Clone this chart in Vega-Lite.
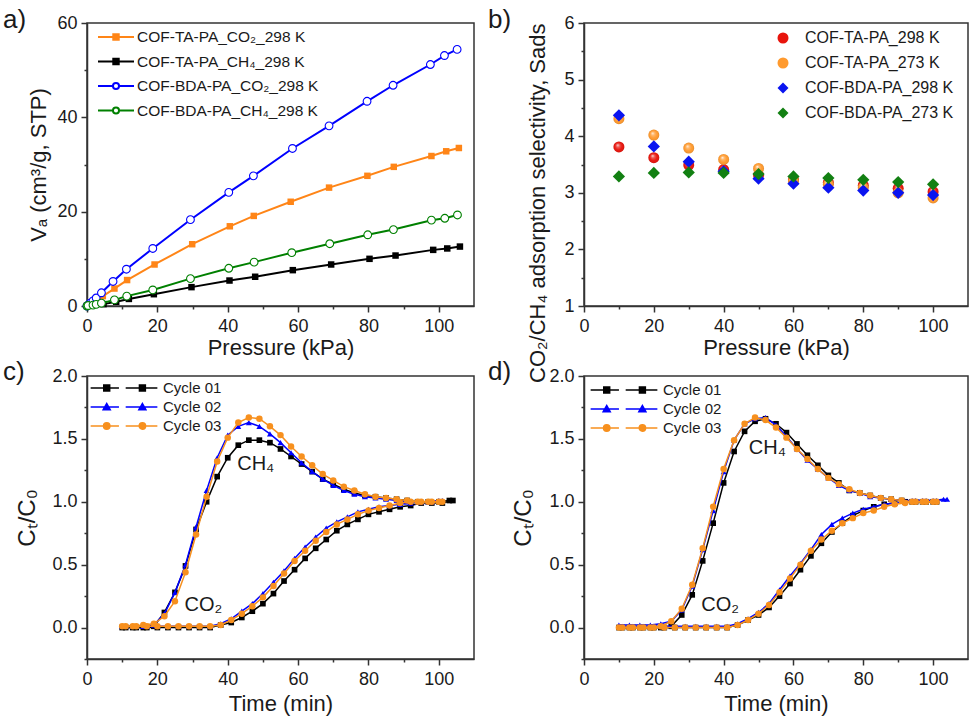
{
  "$schema": "https://vega.github.io/schema/vega-lite/v6.json",
  "autosize": {"type": "none"},
  "padding": {"left": 87, "top": 23, "right": 886, "bottom": 697},
  "columns": 2,
  "spacing": {"row": 70, "column": 110},
  "bounds": "flush",
  "datasets": {
    "a": [
      {"p":0,"v":0,"s":"COF-TA-PA_CO₂_298 K"},{"p":0.3,"v":0.1,"s":"COF-TA-PA_CO₂_298 K"},{"p":1.2,"v":0.6,"s":"COF-TA-PA_CO₂_298 K"},{"p":2.6,"v":1.3,"s":"COF-TA-PA_CO₂_298 K"},{"p":4.5,"v":2.1,"s":"COF-TA-PA_CO₂_298 K"},{"p":7.8,"v":3.7,"s":"COF-TA-PA_CO₂_298 K"},{"p":11.4,"v":5.5,"s":"COF-TA-PA_CO₂_298 K"},{"p":19.2,"v":8.8,"s":"COF-TA-PA_CO₂_298 K"},{"p":29.9,"v":13.1,"s":"COF-TA-PA_CO₂_298 K"},{"p":40.6,"v":16.9,"s":"COF-TA-PA_CO₂_298 K"},{"p":47.4,"v":19.1,"s":"COF-TA-PA_CO₂_298 K"},{"p":57.9,"v":22.1,"s":"COF-TA-PA_CO₂_298 K"},{"p":68.8,"v":25.1,"s":"COF-TA-PA_CO₂_298 K"},{"p":79.7,"v":27.6,"s":"COF-TA-PA_CO₂_298 K"},{"p":87.2,"v":29.5,"s":"COF-TA-PA_CO₂_298 K"},{"p":97.9,"v":31.8,"s":"COF-TA-PA_CO₂_298 K"},{"p":102.1,"v":32.8,"s":"COF-TA-PA_CO₂_298 K"},{"p":105.7,"v":33.5,"s":"COF-TA-PA_CO₂_298 K"},
      {"p":0,"v":0,"s":"COF-TA-PA_CH₄_298 K"},{"p":0.3,"v":0.1,"s":"COF-TA-PA_CH₄_298 K"},{"p":4.7,"v":0.4,"s":"COF-TA-PA_CH₄_298 K"},{"p":8.3,"v":0.9,"s":"COF-TA-PA_CH₄_298 K"},{"p":11.9,"v":1.5,"s":"COF-TA-PA_CH₄_298 K"},{"p":19.0,"v":2.5,"s":"COF-TA-PA_CH₄_298 K"},{"p":29.7,"v":4.0,"s":"COF-TA-PA_CH₄_298 K"},{"p":40.5,"v":5.4,"s":"COF-TA-PA_CH₄_298 K"},{"p":47.8,"v":6.2,"s":"COF-TA-PA_CH₄_298 K"},{"p":58.5,"v":7.6,"s":"COF-TA-PA_CH₄_298 K"},{"p":69.4,"v":8.8,"s":"COF-TA-PA_CH₄_298 K"},{"p":80.3,"v":10.0,"s":"COF-TA-PA_CH₄_298 K"},{"p":87.7,"v":10.7,"s":"COF-TA-PA_CH₄_298 K"},{"p":98.4,"v":11.9,"s":"COF-TA-PA_CH₄_298 K"},{"p":102.4,"v":12.2,"s":"COF-TA-PA_CH₄_298 K"},{"p":106.0,"v":12.6,"s":"COF-TA-PA_CH₄_298 K"},
      {"p":0,"v":0,"s":"COF-BDA-PA_CO₂_298 K"},{"p":0.3,"v":0.2,"s":"COF-BDA-PA_CO₂_298 K"},{"p":0.9,"v":0.6,"s":"COF-BDA-PA_CO₂_298 K"},{"p":1.7,"v":1.1,"s":"COF-BDA-PA_CO₂_298 K"},{"p":2.6,"v":1.7,"s":"COF-BDA-PA_CO₂_298 K"},{"p":4.1,"v":2.8,"s":"COF-BDA-PA_CO₂_298 K"},{"p":7.4,"v":5.2,"s":"COF-BDA-PA_CO₂_298 K"},{"p":11.2,"v":7.8,"s":"COF-BDA-PA_CO₂_298 K"},{"p":18.7,"v":12.2,"s":"COF-BDA-PA_CO₂_298 K"},{"p":29.4,"v":18.3,"s":"COF-BDA-PA_CO₂_298 K"},{"p":40.3,"v":24.1,"s":"COF-BDA-PA_CO₂_298 K"},{"p":47.3,"v":27.6,"s":"COF-BDA-PA_CO₂_298 K"},{"p":58.4,"v":33.4,"s":"COF-BDA-PA_CO₂_298 K"},{"p":68.8,"v":38.2,"s":"COF-BDA-PA_CO₂_298 K"},{"p":79.6,"v":43.4,"s":"COF-BDA-PA_CO₂_298 K"},{"p":87.0,"v":46.8,"s":"COF-BDA-PA_CO₂_298 K"},{"p":97.6,"v":51.2,"s":"COF-BDA-PA_CO₂_298 K"},{"p":101.6,"v":53.1,"s":"COF-BDA-PA_CO₂_298 K"},{"p":105.2,"v":54.4,"s":"COF-BDA-PA_CO₂_298 K"},
      {"p":0,"v":0,"s":"COF-BDA-PA_CH₄_298 K"},{"p":0.3,"v":0.1,"s":"COF-BDA-PA_CH₄_298 K"},{"p":1.7,"v":0.2,"s":"COF-BDA-PA_CH₄_298 K"},{"p":2.6,"v":0.35,"s":"COF-BDA-PA_CH₄_298 K"},{"p":4.1,"v":0.6,"s":"COF-BDA-PA_CH₄_298 K"},{"p":7.8,"v":1.3,"s":"COF-BDA-PA_CH₄_298 K"},{"p":11.3,"v":2.1,"s":"COF-BDA-PA_CH₄_298 K"},{"p":18.7,"v":3.4,"s":"COF-BDA-PA_CH₄_298 K"},{"p":29.4,"v":5.8,"s":"COF-BDA-PA_CH₄_298 K"},{"p":40.3,"v":8.0,"s":"COF-BDA-PA_CH₄_298 K"},{"p":47.5,"v":9.3,"s":"COF-BDA-PA_CH₄_298 K"},{"p":58.2,"v":11.3,"s":"COF-BDA-PA_CH₄_298 K"},{"p":69.0,"v":13.2,"s":"COF-BDA-PA_CH₄_298 K"},{"p":79.8,"v":15.1,"s":"COF-BDA-PA_CH₄_298 K"},{"p":87.1,"v":16.2,"s":"COF-BDA-PA_CH₄_298 K"},{"p":97.9,"v":18.2,"s":"COF-BDA-PA_CH₄_298 K"},{"p":101.7,"v":18.6,"s":"COF-BDA-PA_CH₄_298 K"},{"p":105.3,"v":19.3,"s":"COF-BDA-PA_CH₄_298 K"}
    ],
    "b": [
      {"p":10,"v":3.81,"s":"COF-TA-PA_298 K"},{"p":20,"v":3.62,"s":"COF-TA-PA_298 K"},{"p":30,"v":3.49,"s":"COF-TA-PA_298 K"},{"p":40,"v":3.41,"s":"COF-TA-PA_298 K"},{"p":50,"v":3.31,"s":"COF-TA-PA_298 K"},{"p":60,"v":3.23,"s":"COF-TA-PA_298 K"},{"p":70,"v":3.18,"s":"COF-TA-PA_298 K"},{"p":80,"v":3.13,"s":"COF-TA-PA_298 K"},{"p":90,"v":3.08,"s":"COF-TA-PA_298 K"},{"p":100,"v":3.02,"s":"COF-TA-PA_298 K"},
      {"p":10,"v":4.31,"s":"COF-TA-PA_273 K"},{"p":20,"v":4.02,"s":"COF-TA-PA_273 K"},{"p":30,"v":3.79,"s":"COF-TA-PA_273 K"},{"p":40,"v":3.59,"s":"COF-TA-PA_273 K"},{"p":50,"v":3.43,"s":"COF-TA-PA_273 K"},{"p":60,"v":3.21,"s":"COF-TA-PA_273 K"},{"p":70,"v":3.15,"s":"COF-TA-PA_273 K"},{"p":80,"v":3.09,"s":"COF-TA-PA_273 K"},{"p":90,"v":3.0,"s":"COF-TA-PA_273 K"},{"p":100,"v":2.91,"s":"COF-TA-PA_273 K"},
      {"p":10,"v":4.37,"s":"COF-BDA-PA_298 K"},{"p":20,"v":3.82,"s":"COF-BDA-PA_298 K"},{"p":30,"v":3.55,"s":"COF-BDA-PA_298 K"},{"p":40,"v":3.38,"s":"COF-BDA-PA_298 K"},{"p":50,"v":3.25,"s":"COF-BDA-PA_298 K"},{"p":60,"v":3.16,"s":"COF-BDA-PA_298 K"},{"p":70,"v":3.09,"s":"COF-BDA-PA_298 K"},{"p":80,"v":3.04,"s":"COF-BDA-PA_298 K"},{"p":90,"v":3.0,"s":"COF-BDA-PA_298 K"},{"p":100,"v":2.96,"s":"COF-BDA-PA_298 K"},
      {"p":10,"v":3.29,"s":"COF-BDA-PA_273 K"},{"p":20,"v":3.35,"s":"COF-BDA-PA_273 K"},{"p":30,"v":3.36,"s":"COF-BDA-PA_273 K"},{"p":40,"v":3.35,"s":"COF-BDA-PA_273 K"},{"p":50,"v":3.33,"s":"COF-BDA-PA_273 K"},{"p":60,"v":3.29,"s":"COF-BDA-PA_273 K"},{"p":70,"v":3.26,"s":"COF-BDA-PA_273 K"},{"p":80,"v":3.23,"s":"COF-BDA-PA_273 K"},{"p":90,"v":3.19,"s":"COF-BDA-PA_273 K"},{"p":100,"v":3.15,"s":"COF-BDA-PA_273 K"}
    ],
    "c": [
      {"t":10,"v":0,"c":"Cycle 01","g":"CH4"},{"t":13,"v":0,"c":"Cycle 01","g":"CH4"},{"t":16,"v":0,"c":"Cycle 01","g":"CH4"},{"t":19,"v":0.01,"c":"Cycle 01","g":"CH4"},{"t":22,"v":0.12,"c":"Cycle 01","g":"CH4"},{"t":25,"v":0.28,"c":"Cycle 01","g":"CH4"},{"t":28,"v":0.49,"c":"Cycle 01","g":"CH4"},{"t":31,"v":0.78,"c":"Cycle 01","g":"CH4"},{"t":34,"v":1.0,"c":"Cycle 01","g":"CH4"},{"t":37,"v":1.2,"c":"Cycle 01","g":"CH4"},{"t":40,"v":1.35,"c":"Cycle 01","g":"CH4"},{"t":43,"v":1.45,"c":"Cycle 01","g":"CH4"},{"t":46,"v":1.49,"c":"Cycle 01","g":"CH4"},{"t":49,"v":1.49,"c":"Cycle 01","g":"CH4"},{"t":52,"v":1.47,"c":"Cycle 01","g":"CH4"},{"t":55,"v":1.42,"c":"Cycle 01","g":"CH4"},{"t":58,"v":1.36,"c":"Cycle 01","g":"CH4"},{"t":61,"v":1.3,"c":"Cycle 01","g":"CH4"},{"t":64,"v":1.24,"c":"Cycle 01","g":"CH4"},{"t":67,"v":1.18,"c":"Cycle 01","g":"CH4"},{"t":70,"v":1.14,"c":"Cycle 01","g":"CH4"},{"t":73,"v":1.1,"c":"Cycle 01","g":"CH4"},{"t":76,"v":1.07,"c":"Cycle 01","g":"CH4"},{"t":79,"v":1.05,"c":"Cycle 01","g":"CH4"},{"t":82,"v":1.04,"c":"Cycle 01","g":"CH4"},{"t":85,"v":1.03,"c":"Cycle 01","g":"CH4"},{"t":88,"v":1.02,"c":"Cycle 01","g":"CH4"},{"t":91,"v":1.01,"c":"Cycle 01","g":"CH4"},{"t":94,"v":1.0,"c":"Cycle 01","g":"CH4"},{"t":97,"v":1.0,"c":"Cycle 01","g":"CH4"},{"t":100,"v":1.0,"c":"Cycle 01","g":"CH4"},{"t":103,"v":1.01,"c":"Cycle 01","g":"CH4"},
      {"t":11,"v":0,"c":"Cycle 01","g":"CO2"},{"t":14,"v":0,"c":"Cycle 01","g":"CO2"},{"t":17,"v":0,"c":"Cycle 01","g":"CO2"},{"t":20,"v":0,"c":"Cycle 01","g":"CO2"},{"t":23,"v":0,"c":"Cycle 01","g":"CO2"},{"t":26,"v":0,"c":"Cycle 01","g":"CO2"},{"t":29,"v":0,"c":"Cycle 01","g":"CO2"},{"t":32,"v":0,"c":"Cycle 01","g":"CO2"},{"t":35,"v":0,"c":"Cycle 01","g":"CO2"},{"t":38,"v":0.02,"c":"Cycle 01","g":"CO2"},{"t":41,"v":0.04,"c":"Cycle 01","g":"CO2"},{"t":44,"v":0.08,"c":"Cycle 01","g":"CO2"},{"t":47,"v":0.13,"c":"Cycle 01","g":"CO2"},{"t":50,"v":0.19,"c":"Cycle 01","g":"CO2"},{"t":53,"v":0.27,"c":"Cycle 01","g":"CO2"},{"t":56,"v":0.37,"c":"Cycle 01","g":"CO2"},{"t":59,"v":0.46,"c":"Cycle 01","g":"CO2"},{"t":62,"v":0.55,"c":"Cycle 01","g":"CO2"},{"t":65,"v":0.63,"c":"Cycle 01","g":"CO2"},{"t":68,"v":0.7,"c":"Cycle 01","g":"CO2"},{"t":71,"v":0.77,"c":"Cycle 01","g":"CO2"},{"t":74,"v":0.82,"c":"Cycle 01","g":"CO2"},{"t":77,"v":0.86,"c":"Cycle 01","g":"CO2"},{"t":80,"v":0.9,"c":"Cycle 01","g":"CO2"},{"t":83,"v":0.92,"c":"Cycle 01","g":"CO2"},{"t":86,"v":0.94,"c":"Cycle 01","g":"CO2"},{"t":89,"v":0.96,"c":"Cycle 01","g":"CO2"},{"t":92,"v":0.97,"c":"Cycle 01","g":"CO2"},{"t":95,"v":0.99,"c":"Cycle 01","g":"CO2"},{"t":98,"v":0.99,"c":"Cycle 01","g":"CO2"},{"t":101,"v":0.99,"c":"Cycle 01","g":"CO2"},{"t":104,"v":1.01,"c":"Cycle 01","g":"CO2"},
      {"t":10,"v":0.01,"c":"Cycle 02","g":"CH4"},{"t":13,"v":0.01,"c":"Cycle 02","g":"CH4"},{"t":16,"v":0.01,"c":"Cycle 02","g":"CH4"},{"t":19,"v":0.02,"c":"Cycle 02","g":"CH4"},{"t":22,"v":0.11,"c":"Cycle 02","g":"CH4"},{"t":25,"v":0.28,"c":"Cycle 02","g":"CH4"},{"t":28,"v":0.5,"c":"Cycle 02","g":"CH4"},{"t":31,"v":0.8,"c":"Cycle 02","g":"CH4"},{"t":34,"v":1.09,"c":"Cycle 02","g":"CH4"},{"t":37,"v":1.35,"c":"Cycle 02","g":"CH4"},{"t":40,"v":1.53,"c":"Cycle 02","g":"CH4"},{"t":43,"v":1.6,"c":"Cycle 02","g":"CH4"},{"t":46,"v":1.63,"c":"Cycle 02","g":"CH4"},{"t":49,"v":1.6,"c":"Cycle 02","g":"CH4"},{"t":52,"v":1.54,"c":"Cycle 02","g":"CH4"},{"t":55,"v":1.47,"c":"Cycle 02","g":"CH4"},{"t":58,"v":1.39,"c":"Cycle 02","g":"CH4"},{"t":61,"v":1.31,"c":"Cycle 02","g":"CH4"},{"t":64,"v":1.24,"c":"Cycle 02","g":"CH4"},{"t":67,"v":1.18,"c":"Cycle 02","g":"CH4"},{"t":70,"v":1.13,"c":"Cycle 02","g":"CH4"},{"t":73,"v":1.09,"c":"Cycle 02","g":"CH4"},{"t":76,"v":1.06,"c":"Cycle 02","g":"CH4"},{"t":79,"v":1.04,"c":"Cycle 02","g":"CH4"},{"t":82,"v":1.03,"c":"Cycle 02","g":"CH4"},{"t":85,"v":1.02,"c":"Cycle 02","g":"CH4"},{"t":88,"v":1.01,"c":"Cycle 02","g":"CH4"},{"t":91,"v":1.0,"c":"Cycle 02","g":"CH4"},{"t":94,"v":1.0,"c":"Cycle 02","g":"CH4"},{"t":97,"v":1.0,"c":"Cycle 02","g":"CH4"},{"t":100,"v":1.01,"c":"Cycle 02","g":"CH4"},
      {"t":11,"v":0.01,"c":"Cycle 02","g":"CO2"},{"t":14,"v":0.01,"c":"Cycle 02","g":"CO2"},{"t":17,"v":0.01,"c":"Cycle 02","g":"CO2"},{"t":20,"v":0.01,"c":"Cycle 02","g":"CO2"},{"t":23,"v":0.01,"c":"Cycle 02","g":"CO2"},{"t":26,"v":0.01,"c":"Cycle 02","g":"CO2"},{"t":29,"v":0.01,"c":"Cycle 02","g":"CO2"},{"t":32,"v":0.01,"c":"Cycle 02","g":"CO2"},{"t":35,"v":0.01,"c":"Cycle 02","g":"CO2"},{"t":38,"v":0.03,"c":"Cycle 02","g":"CO2"},{"t":41,"v":0.07,"c":"Cycle 02","g":"CO2"},{"t":44,"v":0.13,"c":"Cycle 02","g":"CO2"},{"t":47,"v":0.19,"c":"Cycle 02","g":"CO2"},{"t":50,"v":0.27,"c":"Cycle 02","g":"CO2"},{"t":53,"v":0.36,"c":"Cycle 02","g":"CO2"},{"t":56,"v":0.45,"c":"Cycle 02","g":"CO2"},{"t":59,"v":0.55,"c":"Cycle 02","g":"CO2"},{"t":62,"v":0.64,"c":"Cycle 02","g":"CO2"},{"t":65,"v":0.72,"c":"Cycle 02","g":"CO2"},{"t":68,"v":0.79,"c":"Cycle 02","g":"CO2"},{"t":71,"v":0.84,"c":"Cycle 02","g":"CO2"},{"t":74,"v":0.88,"c":"Cycle 02","g":"CO2"},{"t":77,"v":0.92,"c":"Cycle 02","g":"CO2"},{"t":80,"v":0.94,"c":"Cycle 02","g":"CO2"},{"t":83,"v":0.96,"c":"Cycle 02","g":"CO2"},{"t":86,"v":0.97,"c":"Cycle 02","g":"CO2"},{"t":89,"v":0.98,"c":"Cycle 02","g":"CO2"},{"t":92,"v":0.99,"c":"Cycle 02","g":"CO2"},{"t":95,"v":1.0,"c":"Cycle 02","g":"CO2"},{"t":98,"v":1.0,"c":"Cycle 02","g":"CO2"},{"t":101,"v":1.01,"c":"Cycle 02","g":"CO2"},
      {"t":10,"v":0.01,"c":"Cycle 03","g":"CH4"},{"t":13,"v":0.01,"c":"Cycle 03","g":"CH4"},{"t":16,"v":0.02,"c":"Cycle 03","g":"CH4"},{"t":19,"v":0.03,"c":"Cycle 03","g":"CH4"},{"t":22,"v":0.09,"c":"Cycle 03","g":"CH4"},{"t":25,"v":0.21,"c":"Cycle 03","g":"CH4"},{"t":28,"v":0.44,"c":"Cycle 03","g":"CH4"},{"t":31,"v":0.74,"c":"Cycle 03","g":"CH4"},{"t":34,"v":1.04,"c":"Cycle 03","g":"CH4"},{"t":37,"v":1.32,"c":"Cycle 03","g":"CH4"},{"t":40,"v":1.51,"c":"Cycle 03","g":"CH4"},{"t":43,"v":1.63,"c":"Cycle 03","g":"CH4"},{"t":46,"v":1.67,"c":"Cycle 03","g":"CH4"},{"t":49,"v":1.66,"c":"Cycle 03","g":"CH4"},{"t":52,"v":1.6,"c":"Cycle 03","g":"CH4"},{"t":55,"v":1.53,"c":"Cycle 03","g":"CH4"},{"t":58,"v":1.44,"c":"Cycle 03","g":"CH4"},{"t":61,"v":1.36,"c":"Cycle 03","g":"CH4"},{"t":64,"v":1.29,"c":"Cycle 03","g":"CH4"},{"t":67,"v":1.22,"c":"Cycle 03","g":"CH4"},{"t":70,"v":1.17,"c":"Cycle 03","g":"CH4"},{"t":73,"v":1.12,"c":"Cycle 03","g":"CH4"},{"t":76,"v":1.09,"c":"Cycle 03","g":"CH4"},{"t":79,"v":1.06,"c":"Cycle 03","g":"CH4"},{"t":82,"v":1.04,"c":"Cycle 03","g":"CH4"},{"t":85,"v":1.03,"c":"Cycle 03","g":"CH4"},{"t":88,"v":1.02,"c":"Cycle 03","g":"CH4"},{"t":91,"v":1.01,"c":"Cycle 03","g":"CH4"},{"t":94,"v":1.0,"c":"Cycle 03","g":"CH4"},{"t":97,"v":1.0,"c":"Cycle 03","g":"CH4"},{"t":100,"v":1.0,"c":"Cycle 03","g":"CH4"},
      {"t":11,"v":0.01,"c":"Cycle 03","g":"CO2"},{"t":14,"v":0.01,"c":"Cycle 03","g":"CO2"},{"t":17,"v":0.01,"c":"Cycle 03","g":"CO2"},{"t":20,"v":0.01,"c":"Cycle 03","g":"CO2"},{"t":23,"v":0.01,"c":"Cycle 03","g":"CO2"},{"t":26,"v":0.01,"c":"Cycle 03","g":"CO2"},{"t":29,"v":0.01,"c":"Cycle 03","g":"CO2"},{"t":32,"v":0.01,"c":"Cycle 03","g":"CO2"},{"t":35,"v":0.01,"c":"Cycle 03","g":"CO2"},{"t":38,"v":0.02,"c":"Cycle 03","g":"CO2"},{"t":41,"v":0.06,"c":"Cycle 03","g":"CO2"},{"t":44,"v":0.11,"c":"Cycle 03","g":"CO2"},{"t":47,"v":0.17,"c":"Cycle 03","g":"CO2"},{"t":50,"v":0.24,"c":"Cycle 03","g":"CO2"},{"t":53,"v":0.33,"c":"Cycle 03","g":"CO2"},{"t":56,"v":0.43,"c":"Cycle 03","g":"CO2"},{"t":59,"v":0.53,"c":"Cycle 03","g":"CO2"},{"t":62,"v":0.61,"c":"Cycle 03","g":"CO2"},{"t":65,"v":0.69,"c":"Cycle 03","g":"CO2"},{"t":68,"v":0.76,"c":"Cycle 03","g":"CO2"},{"t":71,"v":0.82,"c":"Cycle 03","g":"CO2"},{"t":74,"v":0.86,"c":"Cycle 03","g":"CO2"},{"t":77,"v":0.9,"c":"Cycle 03","g":"CO2"},{"t":80,"v":0.93,"c":"Cycle 03","g":"CO2"},{"t":83,"v":0.95,"c":"Cycle 03","g":"CO2"},{"t":86,"v":0.97,"c":"Cycle 03","g":"CO2"},{"t":89,"v":0.99,"c":"Cycle 03","g":"CO2"},{"t":92,"v":1.0,"c":"Cycle 03","g":"CO2"},{"t":95,"v":1.0,"c":"Cycle 03","g":"CO2"},{"t":98,"v":1.0,"c":"Cycle 03","g":"CO2"},{"t":101,"v":1.0,"c":"Cycle 03","g":"CO2"}
    ],
    "d": [
      {"t":10,"v":0,"c":"Cycle 01","g":"CH4"},{"t":13,"v":0,"c":"Cycle 01","g":"CH4"},{"t":16,"v":0,"c":"Cycle 01","g":"CH4"},{"t":19,"v":0,"c":"Cycle 01","g":"CH4"},{"t":22,"v":0,"c":"Cycle 01","g":"CH4"},{"t":25,"v":0.01,"c":"Cycle 01","g":"CH4"},{"t":28,"v":0.1,"c":"Cycle 01","g":"CH4"},{"t":31,"v":0.26,"c":"Cycle 01","g":"CH4"},{"t":34,"v":0.53,"c":"Cycle 01","g":"CH4"},{"t":37,"v":0.83,"c":"Cycle 01","g":"CH4"},{"t":40,"v":1.15,"c":"Cycle 01","g":"CH4"},{"t":43,"v":1.4,"c":"Cycle 01","g":"CH4"},{"t":46,"v":1.56,"c":"Cycle 01","g":"CH4"},{"t":49,"v":1.64,"c":"Cycle 01","g":"CH4"},{"t":52,"v":1.66,"c":"Cycle 01","g":"CH4"},{"t":55,"v":1.62,"c":"Cycle 01","g":"CH4"},{"t":58,"v":1.55,"c":"Cycle 01","g":"CH4"},{"t":61,"v":1.46,"c":"Cycle 01","g":"CH4"},{"t":64,"v":1.37,"c":"Cycle 01","g":"CH4"},{"t":67,"v":1.29,"c":"Cycle 01","g":"CH4"},{"t":70,"v":1.21,"c":"Cycle 01","g":"CH4"},{"t":73,"v":1.15,"c":"Cycle 01","g":"CH4"},{"t":76,"v":1.09,"c":"Cycle 01","g":"CH4"},{"t":79,"v":1.07,"c":"Cycle 01","g":"CH4"},{"t":82,"v":1.05,"c":"Cycle 01","g":"CH4"},{"t":85,"v":1.03,"c":"Cycle 01","g":"CH4"},{"t":88,"v":1.02,"c":"Cycle 01","g":"CH4"},{"t":91,"v":1.01,"c":"Cycle 01","g":"CH4"},{"t":94,"v":1.0,"c":"Cycle 01","g":"CH4"},{"t":97,"v":1.0,"c":"Cycle 01","g":"CH4"},{"t":100,"v":1.0,"c":"Cycle 01","g":"CH4"},
      {"t":11,"v":0,"c":"Cycle 01","g":"CO2"},{"t":14,"v":0,"c":"Cycle 01","g":"CO2"},{"t":17,"v":0,"c":"Cycle 01","g":"CO2"},{"t":20,"v":0,"c":"Cycle 01","g":"CO2"},{"t":23,"v":0,"c":"Cycle 01","g":"CO2"},{"t":26,"v":0,"c":"Cycle 01","g":"CO2"},{"t":29,"v":0,"c":"Cycle 01","g":"CO2"},{"t":32,"v":0,"c":"Cycle 01","g":"CO2"},{"t":35,"v":0,"c":"Cycle 01","g":"CO2"},{"t":38,"v":0,"c":"Cycle 01","g":"CO2"},{"t":41,"v":0,"c":"Cycle 01","g":"CO2"},{"t":44,"v":0.02,"c":"Cycle 01","g":"CO2"},{"t":47,"v":0.06,"c":"Cycle 01","g":"CO2"},{"t":50,"v":0.1,"c":"Cycle 01","g":"CO2"},{"t":53,"v":0.16,"c":"Cycle 01","g":"CO2"},{"t":56,"v":0.25,"c":"Cycle 01","g":"CO2"},{"t":59,"v":0.35,"c":"Cycle 01","g":"CO2"},{"t":62,"v":0.46,"c":"Cycle 01","g":"CO2"},{"t":65,"v":0.57,"c":"Cycle 01","g":"CO2"},{"t":68,"v":0.67,"c":"Cycle 01","g":"CO2"},{"t":71,"v":0.76,"c":"Cycle 01","g":"CO2"},{"t":74,"v":0.83,"c":"Cycle 01","g":"CO2"},{"t":77,"v":0.89,"c":"Cycle 01","g":"CO2"},{"t":80,"v":0.93,"c":"Cycle 01","g":"CO2"},{"t":83,"v":0.96,"c":"Cycle 01","g":"CO2"},{"t":86,"v":0.98,"c":"Cycle 01","g":"CO2"},{"t":89,"v":0.99,"c":"Cycle 01","g":"CO2"},{"t":92,"v":1.0,"c":"Cycle 01","g":"CO2"},{"t":95,"v":1.0,"c":"Cycle 01","g":"CO2"},{"t":98,"v":1.0,"c":"Cycle 01","g":"CO2"},{"t":101,"v":1.0,"c":"Cycle 01","g":"CO2"},
      {"t":10,"v":0.02,"c":"Cycle 02","g":"CH4"},{"t":13,"v":0.02,"c":"Cycle 02","g":"CH4"},{"t":16,"v":0.02,"c":"Cycle 02","g":"CH4"},{"t":19,"v":0.02,"c":"Cycle 02","g":"CH4"},{"t":22,"v":0.03,"c":"Cycle 02","g":"CH4"},{"t":25,"v":0.05,"c":"Cycle 02","g":"CH4"},{"t":28,"v":0.14,"c":"Cycle 02","g":"CH4"},{"t":31,"v":0.33,"c":"Cycle 02","g":"CH4"},{"t":34,"v":0.62,"c":"Cycle 02","g":"CH4"},{"t":37,"v":0.93,"c":"Cycle 02","g":"CH4"},{"t":40,"v":1.24,"c":"Cycle 02","g":"CH4"},{"t":43,"v":1.49,"c":"Cycle 02","g":"CH4"},{"t":46,"v":1.62,"c":"Cycle 02","g":"CH4"},{"t":49,"v":1.66,"c":"Cycle 02","g":"CH4"},{"t":52,"v":1.67,"c":"Cycle 02","g":"CH4"},{"t":55,"v":1.61,"c":"Cycle 02","g":"CH4"},{"t":58,"v":1.52,"c":"Cycle 02","g":"CH4"},{"t":61,"v":1.42,"c":"Cycle 02","g":"CH4"},{"t":64,"v":1.33,"c":"Cycle 02","g":"CH4"},{"t":67,"v":1.26,"c":"Cycle 02","g":"CH4"},{"t":70,"v":1.19,"c":"Cycle 02","g":"CH4"},{"t":73,"v":1.13,"c":"Cycle 02","g":"CH4"},{"t":76,"v":1.09,"c":"Cycle 02","g":"CH4"},{"t":79,"v":1.07,"c":"Cycle 02","g":"CH4"},{"t":82,"v":1.04,"c":"Cycle 02","g":"CH4"},{"t":85,"v":1.03,"c":"Cycle 02","g":"CH4"},{"t":88,"v":1.02,"c":"Cycle 02","g":"CH4"},{"t":91,"v":1.01,"c":"Cycle 02","g":"CH4"},{"t":94,"v":1.01,"c":"Cycle 02","g":"CH4"},{"t":97,"v":1.01,"c":"Cycle 02","g":"CH4"},{"t":100,"v":1.01,"c":"Cycle 02","g":"CH4"},{"t":103,"v":1.02,"c":"Cycle 02","g":"CH4"},
      {"t":11,"v":0.01,"c":"Cycle 02","g":"CO2"},{"t":14,"v":0.01,"c":"Cycle 02","g":"CO2"},{"t":17,"v":0.01,"c":"Cycle 02","g":"CO2"},{"t":20,"v":0.01,"c":"Cycle 02","g":"CO2"},{"t":23,"v":0.01,"c":"Cycle 02","g":"CO2"},{"t":26,"v":0.01,"c":"Cycle 02","g":"CO2"},{"t":29,"v":0.01,"c":"Cycle 02","g":"CO2"},{"t":32,"v":0.01,"c":"Cycle 02","g":"CO2"},{"t":35,"v":0.01,"c":"Cycle 02","g":"CO2"},{"t":38,"v":0.01,"c":"Cycle 02","g":"CO2"},{"t":41,"v":0.01,"c":"Cycle 02","g":"CO2"},{"t":44,"v":0.03,"c":"Cycle 02","g":"CO2"},{"t":47,"v":0.07,"c":"Cycle 02","g":"CO2"},{"t":50,"v":0.12,"c":"Cycle 02","g":"CO2"},{"t":53,"v":0.19,"c":"Cycle 02","g":"CO2"},{"t":56,"v":0.3,"c":"Cycle 02","g":"CO2"},{"t":59,"v":0.41,"c":"Cycle 02","g":"CO2"},{"t":62,"v":0.51,"c":"Cycle 02","g":"CO2"},{"t":65,"v":0.62,"c":"Cycle 02","g":"CO2"},{"t":68,"v":0.74,"c":"Cycle 02","g":"CO2"},{"t":71,"v":0.82,"c":"Cycle 02","g":"CO2"},{"t":74,"v":0.87,"c":"Cycle 02","g":"CO2"},{"t":77,"v":0.91,"c":"Cycle 02","g":"CO2"},{"t":80,"v":0.94,"c":"Cycle 02","g":"CO2"},{"t":83,"v":0.96,"c":"Cycle 02","g":"CO2"},{"t":86,"v":0.98,"c":"Cycle 02","g":"CO2"},{"t":89,"v":0.99,"c":"Cycle 02","g":"CO2"},{"t":92,"v":1.0,"c":"Cycle 02","g":"CO2"},{"t":95,"v":1.01,"c":"Cycle 02","g":"CO2"},{"t":98,"v":1.01,"c":"Cycle 02","g":"CO2"},{"t":101,"v":1.01,"c":"Cycle 02","g":"CO2"},{"t":104,"v":1.02,"c":"Cycle 02","g":"CO2"},
      {"t":10,"v":0,"c":"Cycle 03","g":"CH4"},{"t":13,"v":0,"c":"Cycle 03","g":"CH4"},{"t":16,"v":0,"c":"Cycle 03","g":"CH4"},{"t":19,"v":0,"c":"Cycle 03","g":"CH4"},{"t":22,"v":0.01,"c":"Cycle 03","g":"CH4"},{"t":25,"v":0.05,"c":"Cycle 03","g":"CH4"},{"t":28,"v":0.15,"c":"Cycle 03","g":"CH4"},{"t":31,"v":0.34,"c":"Cycle 03","g":"CH4"},{"t":34,"v":0.63,"c":"Cycle 03","g":"CH4"},{"t":37,"v":0.96,"c":"Cycle 03","g":"CH4"},{"t":40,"v":1.26,"c":"Cycle 03","g":"CH4"},{"t":43,"v":1.49,"c":"Cycle 03","g":"CH4"},{"t":46,"v":1.62,"c":"Cycle 03","g":"CH4"},{"t":49,"v":1.67,"c":"Cycle 03","g":"CH4"},{"t":52,"v":1.65,"c":"Cycle 03","g":"CH4"},{"t":55,"v":1.59,"c":"Cycle 03","g":"CH4"},{"t":58,"v":1.51,"c":"Cycle 03","g":"CH4"},{"t":61,"v":1.42,"c":"Cycle 03","g":"CH4"},{"t":64,"v":1.34,"c":"Cycle 03","g":"CH4"},{"t":67,"v":1.26,"c":"Cycle 03","g":"CH4"},{"t":70,"v":1.19,"c":"Cycle 03","g":"CH4"},{"t":73,"v":1.14,"c":"Cycle 03","g":"CH4"},{"t":76,"v":1.1,"c":"Cycle 03","g":"CH4"},{"t":79,"v":1.07,"c":"Cycle 03","g":"CH4"},{"t":82,"v":1.05,"c":"Cycle 03","g":"CH4"},{"t":85,"v":1.03,"c":"Cycle 03","g":"CH4"},{"t":88,"v":1.02,"c":"Cycle 03","g":"CH4"},{"t":91,"v":1.01,"c":"Cycle 03","g":"CH4"},{"t":94,"v":1.0,"c":"Cycle 03","g":"CH4"},{"t":97,"v":1.0,"c":"Cycle 03","g":"CH4"},{"t":100,"v":1.0,"c":"Cycle 03","g":"CH4"},
      {"t":11,"v":0,"c":"Cycle 03","g":"CO2"},{"t":14,"v":0,"c":"Cycle 03","g":"CO2"},{"t":17,"v":0,"c":"Cycle 03","g":"CO2"},{"t":20,"v":0,"c":"Cycle 03","g":"CO2"},{"t":23,"v":0,"c":"Cycle 03","g":"CO2"},{"t":26,"v":0,"c":"Cycle 03","g":"CO2"},{"t":29,"v":0,"c":"Cycle 03","g":"CO2"},{"t":32,"v":0,"c":"Cycle 03","g":"CO2"},{"t":35,"v":0,"c":"Cycle 03","g":"CO2"},{"t":38,"v":0,"c":"Cycle 03","g":"CO2"},{"t":41,"v":0,"c":"Cycle 03","g":"CO2"},{"t":44,"v":0.02,"c":"Cycle 03","g":"CO2"},{"t":47,"v":0.06,"c":"Cycle 03","g":"CO2"},{"t":50,"v":0.11,"c":"Cycle 03","g":"CO2"},{"t":53,"v":0.18,"c":"Cycle 03","g":"CO2"},{"t":56,"v":0.28,"c":"Cycle 03","g":"CO2"},{"t":59,"v":0.39,"c":"Cycle 03","g":"CO2"},{"t":62,"v":0.5,"c":"Cycle 03","g":"CO2"},{"t":65,"v":0.61,"c":"Cycle 03","g":"CO2"},{"t":68,"v":0.7,"c":"Cycle 03","g":"CO2"},{"t":71,"v":0.77,"c":"Cycle 03","g":"CO2"},{"t":74,"v":0.83,"c":"Cycle 03","g":"CO2"},{"t":77,"v":0.87,"c":"Cycle 03","g":"CO2"},{"t":80,"v":0.91,"c":"Cycle 03","g":"CO2"},{"t":83,"v":0.93,"c":"Cycle 03","g":"CO2"},{"t":86,"v":0.96,"c":"Cycle 03","g":"CO2"},{"t":89,"v":0.98,"c":"Cycle 03","g":"CO2"},{"t":92,"v":0.99,"c":"Cycle 03","g":"CO2"},{"t":95,"v":1.0,"c":"Cycle 03","g":"CO2"},{"t":98,"v":1.0,"c":"Cycle 03","g":"CO2"},{"t":101,"v":1.0,"c":"Cycle 03","g":"CO2"}
    ]
  },
  "concat": [
    {
      "width": 387, "height": 283,
      "title": {"text": "a)", "anchor": "start", "frame": "group", "orient": "top", "offset": 0, "dx": -84, "dy": 40, "baseline": "alphabetic", "fontSize": 26, "fontWeight": "normal"},
      "data": {"name": "a"},
      "layer": [
        {
          "transform": [{"filter": "indexof(datum.s,'TA-PA_CO')>=0"}],
          "mark": {"type": "line", "color": "#FF8517", "strokeWidth": 2, "point": {"shape": "square", "filled": true, "color": "#FF8517", "size": 42, "opacity": 1}},
          "encoding": {
            "x": {"field": "p", "type": "quantitative", "scale": {"domain": [0, 110], "nice": false}, "axis": {"orient": "bottom", "values": [0, 20, 40, 60, 80, 100], "title": "Pressure (kPa)", "labelPadding": 5, "titlePadding": 2}},
            "y": {"field": "v", "type": "quantitative", "scale": {"domain": [0, 60], "nice": false}, "axis": {"orient": "left", "values": [0, 20, 40, 60], "title": "Vₐ (cm³/g, STP)", "labelPadding": 4, "titlePadding": 6}}
          }
        },
        {
          "transform": [{"filter": "indexof(datum.s,'TA-PA_CH')>=0"}],
          "mark": {"type": "line", "color": "#000000", "strokeWidth": 2, "point": {"shape": "square", "filled": true, "color": "#000000", "size": 42, "opacity": 1}},
          "encoding": {
            "x": {"field": "p", "type": "quantitative", "axis": {"orient": "bottom", "values": [10, 30, 50, 70, 90], "labels": false, "domain": false, "tickSize": 3, "title": null}},
            "y": {"field": "v", "type": "quantitative", "axis": {"orient": "left", "values": [10, 30, 50], "labels": false, "domain": false, "tickSize": 3, "title": null}}
          }
        },
        {
          "transform": [{"filter": "indexof(datum.s,'BDA-PA_CO')>=0"}],
          "mark": {"type": "line", "color": "#0000FF", "strokeWidth": 2, "point": {"shape": "circle", "filled": true, "fill": "#ffffff", "stroke": "#0000FF", "strokeWidth": 1.1, "size": 60, "opacity": 1}},
          "encoding": {"x": {"field": "p", "type": "quantitative", "axis": null}, "y": {"field": "v", "type": "quantitative", "axis": null}}
        },
        {
          "transform": [{"filter": "indexof(datum.s,'BDA-PA_CH')>=0"}],
          "mark": {"type": "line", "color": "#008000", "strokeWidth": 2, "point": {"shape": "circle", "filled": true, "fill": "#ffffff", "stroke": "#008000", "strokeWidth": 1.1, "size": 60, "opacity": 1}},
          "encoding": {"x": {"field": "p", "type": "quantitative", "axis": null}, "y": {"field": "v", "type": "quantitative", "axis": null}}
        },
        {
          "transform": [{"filter": "false"}],
          "mark": {"type": "point", "filled": true, "opacity": 1},
          "encoding": {
            "x": {"field": "p", "type": "quantitative", "axis": null},
            "y": {"field": "v", "type": "quantitative", "axis": null},
            "fill": {"field": "s", "type": "nominal", "scale": {"domain": ["COF-TA-PA_CO₂_298 K", "COF-TA-PA_CH₄_298 K", "COF-BDA-PA_CO₂_298 K", "COF-BDA-PA_CH₄_298 K"], "range": ["#FF8517", "#000000", "#ffffff", "#ffffff"]},
              "legend": {"title": null, "orient": "none", "legendX": 20, "legendY": 5, "padding": 0, "symbolSize": 256, "symbolStrokeWidth": 2, "symbolOpacity": 1, "labelFontSize": 15.5, "labelOffset": 12, "rowPadding": 6.5}},
            "stroke": {"field": "s", "type": "nominal", "scale": {"domain": ["COF-TA-PA_CO₂_298 K", "COF-TA-PA_CH₄_298 K", "COF-BDA-PA_CO₂_298 K", "COF-BDA-PA_CH₄_298 K"], "range": ["#FF8517", "#000000", "#0000FF", "#008000"]},
              "legend": {"title": null, "orient": "none", "legendX": 20, "legendY": 5, "padding": 0, "symbolSize": 256, "symbolStrokeWidth": 2, "symbolOpacity": 1, "labelFontSize": 15.5, "labelOffset": 12, "rowPadding": 6.5}},
            "shape": {"field": "s", "type": "nominal", "scale": {"domain": ["COF-TA-PA_CO₂_298 K", "COF-TA-PA_CH₄_298 K", "COF-BDA-PA_CO₂_298 K", "COF-BDA-PA_CH₄_298 K"], "range": ["M-2.25,0H2.25M-0.34,-0.34H0.34V0.34H-0.34Z", "M-2.25,0H2.25M-0.34,-0.34H0.34V0.34H-0.34Z", "M-2.25,0H-0.38M0.38,0H2.25M0.38,0A0.38,0.38,0,1,1,-0.38,0A0.38,0.38,0,1,1,0.38,0Z", "M-2.25,0H-0.38M0.38,0H2.25M0.38,0A0.38,0.38,0,1,1,-0.38,0A0.38,0.38,0,1,1,0.38,0Z"]},
              "legend": {"title": null, "orient": "none", "legendX": 20, "legendY": 5, "padding": 0, "symbolSize": 256, "symbolStrokeWidth": 2, "symbolOpacity": 1, "labelFontSize": 15.5, "labelOffset": 12, "rowPadding": 6.5}}
          }
        }
      ],
      "resolve": {"axis": {"x": "independent", "y": "independent"}}
    },
    {
      "width": 384, "height": 283,
      "title": {"text": "b)", "anchor": "start", "frame": "group", "orient": "top", "offset": 0, "dx": -96, "dy": 40, "baseline": "alphabetic", "fontSize": 26, "fontWeight": "normal"},
      "data": {"name": "b"},
      "layer": [
        {
          "transform": [{"filter": "indexof(datum.s,'TA-PA')>=0"}],
          "mark": {"type": "point", "filled": true, "size": 121, "opacity": 1},
          "encoding": {
            "x": {"field": "p", "type": "quantitative", "scale": {"domain": [0, 110], "nice": false}, "axis": {"orient": "bottom", "values": [0, 20, 40, 60, 80, 100], "title": "Pressure (kPa)", "labelPadding": 5, "titlePadding": 2}},
            "y": {"field": "v", "type": "quantitative", "scale": {"domain": [1, 6], "nice": false}, "axis": {"orient": "left", "values": [1, 2, 3, 4, 5, 6], "title": "CO₂/CH₄ adsorption selectivity, Sads", "titleFontSize": 22, "titleAnchor": "end", "labelPadding": 4, "titlePadding": 14}},
            "color": {"field": "s", "type": "nominal", "scale": {"domain": ["COF-TA-PA_298 K", "COF-TA-PA_273 K", "COF-BDA-PA_298 K", "COF-BDA-PA_273 K"], "range": ["#E8140C", "#FF9A2E", "#0A14F0", "#128012"]},
              "legend": {"title": null, "orient": "none", "legendX": 191, "legendY": 7, "padding": 0, "symbolSize": 121, "labelFontSize": 16, "labelOffset": 14, "rowPadding": 9}},
            "shape": {"field": "s", "type": "nominal", "scale": {"domain": ["COF-TA-PA_298 K", "COF-TA-PA_273 K", "COF-BDA-PA_298 K", "COF-BDA-PA_273 K"], "range": ["circle", "circle", "diamond", "diamond"]},
              "legend": {"title": null, "orient": "none", "legendX": 191, "legendY": 7, "padding": 0, "symbolSize": 121, "labelFontSize": 16, "labelOffset": 14, "rowPadding": 9}}
          }
        },
        {
          "transform": [{"filter": "indexof(datum.s,'TA-PA')>=0"}],
          "mark": {"type": "point", "shape": "circle", "size": 121, "filled": true, "opacity": 1,
            "fill": {"gradient": "radial", "x1": 0.38, "y1": 0.32, "r1": 0, "x2": 0.5, "y2": 0.5, "r2": 0.5,
              "stops": [{"offset": 0, "color": "rgba(255,255,255,0.95)"}, {"offset": 0.3, "color": "rgba(255,255,255,0.3)"}, {"offset": 0.7, "color": "rgba(255,255,255,0)"}, {"offset": 1, "color": "rgba(0,0,0,0.12)"}]}},
          "encoding": {
            "x": {"field": "p", "type": "quantitative", "axis": {"orient": "bottom", "values": [10, 30, 50, 70, 90], "labels": false, "domain": false, "tickSize": 3, "title": null}},
            "y": {"field": "v", "type": "quantitative", "axis": {"orient": "left", "values": [1.5, 2.5, 3.5, 4.5, 5.5], "labels": false, "domain": false, "tickSize": 3, "title": null}}
          }
        },
        {
          "transform": [{"filter": "indexof(datum.s,'BDA')>=0"}],
          "mark": {"type": "point", "filled": true, "size": 150, "opacity": 1},
          "encoding": {
            "x": {"field": "p", "type": "quantitative", "axis": null},
            "y": {"field": "v", "type": "quantitative", "axis": null},
            "color": {"field": "s", "type": "nominal"},
            "shape": {"field": "s", "type": "nominal"}
          }
        }
      ],
      "resolve": {"axis": {"x": "independent", "y": "independent"}}
    },
    {
      "width": 387, "height": 283,
      "title": {"text": "c)", "anchor": "start", "frame": "group", "orient": "top", "offset": 0, "dx": -84, "dy": 39, "baseline": "alphabetic", "fontSize": 26, "fontWeight": "normal"},
      "data": {"name": "c"},
      "layer": [
        {
          "transform": [{"filter": "datum.c==='Cycle 01'"}],
          "mark": {"type": "line", "color": "#000000", "strokeWidth": 1.5, "point": {"shape": "square", "filled": true, "color": "#000000", "size": 32, "opacity": 1}},
          "encoding": {
            "x": {"field": "t", "type": "quantitative", "scale": {"domain": [0, 110], "nice": false}, "axis": {"orient": "bottom", "values": [0, 20, 40, 60, 80, 100], "title": "Time (min)", "labelPadding": 5, "titlePadding": 5}},
            "y": {"field": "v", "type": "quantitative", "scale": {"domain": [-0.25, 2.0], "nice": false, "zero": false}, "axis": {"orient": "left", "values": [0, 0.5, 1, 1.5, 2], "format": ".1f", "title": "Cₜ/C₀", "titleFontSize": 24, "labelPadding": 4, "titlePadding": 12}},
            "detail": {"field": "g", "type": "nominal"}
          }
        },
        {
          "transform": [{"filter": "datum.c==='Cycle 02'"}],
          "mark": {"type": "line", "color": "#0000FF", "strokeWidth": 1.5, "point": {"shape": "triangle-up", "filled": true, "color": "#0000FF", "size": 36, "opacity": 1}},
          "encoding": {
            "x": {"field": "t", "type": "quantitative", "axis": {"orient": "bottom", "values": [10, 30, 50, 70, 90], "labels": false, "domain": false, "tickSize": 3, "title": null}},
            "y": {"field": "v", "type": "quantitative", "axis": {"orient": "left", "values": [-0.25, 0.25, 0.75, 1.25, 1.75], "labels": false, "domain": false, "tickSize": 3, "title": null}},
            "detail": {"field": "g", "type": "nominal"}
          }
        },
        {
          "transform": [{"filter": "datum.c==='Cycle 03'"}],
          "mark": {"type": "line", "color": "#F7901E", "strokeWidth": 1.5, "point": {"shape": "circle", "filled": true, "color": "#F7901E", "size": 42, "opacity": 1}},
          "encoding": {"x": {"field": "t", "type": "quantitative", "axis": null}, "y": {"field": "v", "type": "quantitative", "axis": null}, "detail": {"field": "g", "type": "nominal"}}
        },
        {
          "transform": [{"filter": "false"}],
          "mark": {"type": "point", "filled": true, "opacity": 1},
          "encoding": {
            "x": {"field": "t", "type": "quantitative", "axis": null},
            "y": {"field": "v", "type": "quantitative", "axis": null},
            "fill": {"field": "c", "type": "nominal", "scale": {"domain": ["Cycle 01", "Cycle 02", "Cycle 03"], "range": ["#000000", "#0000FF", "#F7901E"]},
              "legend": {"title": null, "orient": "none", "legendX": 28, "legendY": 3, "padding": 0, "symbolSize": 256, "symbolStrokeWidth": 1.5, "symbolOpacity": 1, "labelFontSize": 15, "labelOffset": 30, "rowPadding": 2}},
            "stroke": {"field": "c", "type": "nominal", "scale": {"domain": ["Cycle 01", "Cycle 02", "Cycle 03"], "range": ["#000000", "#0000FF", "#F7901E"]},
              "legend": {"title": null, "orient": "none", "legendX": 28, "legendY": 3, "padding": 0, "symbolSize": 256, "symbolStrokeWidth": 1.5, "symbolOpacity": 1, "labelFontSize": 15, "labelOffset": 30, "rowPadding": 2}},
            "shape": {"field": "c", "type": "nominal", "scale": {"domain": ["Cycle 01", "Cycle 02", "Cycle 03"], "range": ["M-4.17,0H-0.63M0.21,0H4.17M-2.53,-0.37H-1.79V0.37H-2.53ZM1.93,-0.37H2.67V0.37H1.93Z", "M-4.17,0H-0.63M0.21,0H4.17M-2.6,0.34L-2.16,-0.44L-1.72,0.34ZM1.86,0.34L2.3,-0.44L2.74,0.34Z", "M-4.17,0H-0.63M0.21,0H4.17M-1.76,0A0.4,0.4,0,1,1,-2.56,0A0.4,0.4,0,1,1,-1.76,0ZM2.7,0A0.4,0.4,0,1,1,1.9,0A0.4,0.4,0,1,1,2.7,0Z"]},
              "legend": {"title": null, "orient": "none", "legendX": 28, "legendY": 3, "padding": 0, "symbolSize": 256, "symbolStrokeWidth": 1.5, "symbolOpacity": 1, "labelFontSize": 15, "labelOffset": 30, "rowPadding": 2}}
          }
        },
        {
          "data": {"values": [{"t": 42.7, "v": 1.25, "label": "CH₄"}, {"t": 27.7, "v": 0.135, "label": "CO₂"}]},
          "mark": {"type": "text", "align": "left", "baseline": "alphabetic", "fontSize": 20, "color": "#1a1a1a"},
          "encoding": {
            "x": {"field": "t", "type": "quantitative", "axis": null},
            "y": {"field": "v", "type": "quantitative", "axis": null},
            "text": {"field": "label"}
          }
        }
      ],
      "resolve": {"axis": {"x": "independent", "y": "independent"}}
    },
    {
      "width": 384, "height": 283,
      "title": {"text": "d)", "anchor": "start", "frame": "group", "orient": "top", "offset": 0, "dx": -96, "dy": 39, "baseline": "alphabetic", "fontSize": 26, "fontWeight": "normal"},
      "data": {"name": "d"},
      "layer": [
        {
          "transform": [{"filter": "datum.c==='Cycle 01'"}],
          "mark": {"type": "line", "color": "#000000", "strokeWidth": 1.5, "point": {"shape": "square", "filled": true, "color": "#000000", "size": 32, "opacity": 1}},
          "encoding": {
            "x": {"field": "t", "type": "quantitative", "scale": {"domain": [0, 110], "nice": false}, "axis": {"orient": "bottom", "values": [0, 20, 40, 60, 80, 100], "title": "Time (min)", "labelPadding": 5, "titlePadding": 5}},
            "y": {"field": "v", "type": "quantitative", "scale": {"domain": [-0.25, 2.0], "nice": false, "zero": false}, "axis": {"orient": "left", "values": [0, 0.5, 1, 1.5, 2], "format": ".1f", "title": "Cₜ/C₀", "titleFontSize": 24, "labelPadding": 4, "titlePadding": 13}},
            "detail": {"field": "g", "type": "nominal"}
          }
        },
        {
          "transform": [{"filter": "datum.c==='Cycle 02'"}],
          "mark": {"type": "line", "color": "#0000FF", "strokeWidth": 1.5, "point": {"shape": "triangle-up", "filled": true, "color": "#0000FF", "size": 36, "opacity": 1}},
          "encoding": {
            "x": {"field": "t", "type": "quantitative", "axis": {"orient": "bottom", "values": [10, 30, 50, 70, 90], "labels": false, "domain": false, "tickSize": 3, "title": null}},
            "y": {"field": "v", "type": "quantitative", "axis": {"orient": "left", "values": [-0.25, 0.25, 0.75, 1.25, 1.75], "labels": false, "domain": false, "tickSize": 3, "title": null}},
            "detail": {"field": "g", "type": "nominal"}
          }
        },
        {
          "transform": [{"filter": "datum.c==='Cycle 03'"}],
          "mark": {"type": "line", "color": "#F7901E", "strokeWidth": 1.5, "point": {"shape": "circle", "filled": true, "color": "#F7901E", "size": 42, "opacity": 1}},
          "encoding": {"x": {"field": "t", "type": "quantitative", "axis": null}, "y": {"field": "v", "type": "quantitative", "axis": null}, "detail": {"field": "g", "type": "nominal"}}
        },
        {
          "transform": [{"filter": "false"}],
          "mark": {"type": "point", "filled": true, "opacity": 1},
          "encoding": {
            "x": {"field": "t", "type": "quantitative", "axis": null},
            "y": {"field": "v", "type": "quantitative", "axis": null},
            "fill": {"field": "c", "type": "nominal", "scale": {"domain": ["Cycle 01", "Cycle 02", "Cycle 03"], "range": ["#000000", "#0000FF", "#F7901E"]},
              "legend": {"title": null, "orient": "none", "legendX": 31, "legendY": 5, "padding": 0, "symbolSize": 256, "symbolStrokeWidth": 1.5, "symbolOpacity": 1, "labelFontSize": 15, "labelOffset": 30, "rowPadding": 2}},
            "stroke": {"field": "c", "type": "nominal", "scale": {"domain": ["Cycle 01", "Cycle 02", "Cycle 03"], "range": ["#000000", "#0000FF", "#F7901E"]},
              "legend": {"title": null, "orient": "none", "legendX": 31, "legendY": 5, "padding": 0, "symbolSize": 256, "symbolStrokeWidth": 1.5, "symbolOpacity": 1, "labelFontSize": 15, "labelOffset": 30, "rowPadding": 2}},
            "shape": {"field": "c", "type": "nominal", "scale": {"domain": ["Cycle 01", "Cycle 02", "Cycle 03"], "range": ["M-4.17,0H-0.63M0.21,0H4.17M-2.53,-0.37H-1.79V0.37H-2.53ZM1.93,-0.37H2.67V0.37H1.93Z", "M-4.17,0H-0.63M0.21,0H4.17M-2.6,0.34L-2.16,-0.44L-1.72,0.34ZM1.86,0.34L2.3,-0.44L2.74,0.34Z", "M-4.17,0H-0.63M0.21,0H4.17M-1.76,0A0.4,0.4,0,1,1,-2.56,0A0.4,0.4,0,1,1,-1.76,0ZM2.7,0A0.4,0.4,0,1,1,1.9,0A0.4,0.4,0,1,1,2.7,0Z"]},
              "legend": {"title": null, "orient": "none", "legendX": 31, "legendY": 5, "padding": 0, "symbolSize": 256, "symbolStrokeWidth": 1.5, "symbolOpacity": 1, "labelFontSize": 15, "labelOffset": 30, "rowPadding": 2}}
          }
        },
        {
          "data": {"values": [{"t": 47.2, "v": 1.38, "label": "CH₄"}, {"t": 33.6, "v": 0.135, "label": "CO₂"}]},
          "mark": {"type": "text", "align": "left", "baseline": "alphabetic", "fontSize": 20, "color": "#1a1a1a"},
          "encoding": {
            "x": {"field": "t", "type": "quantitative", "axis": null},
            "y": {"field": "v", "type": "quantitative", "axis": null},
            "text": {"field": "label"}
          }
        }
      ],
      "resolve": {"axis": {"x": "independent", "y": "independent"}}
    }
  ],
  "resolve": {
    "scale": {"x": "independent", "y": "independent", "color": "independent", "fill": "independent", "stroke": "independent", "shape": "independent", "size": "independent"},
    "legend": {"color": "independent", "shape": "independent", "fill": "independent", "stroke": "independent", "size": "independent"},
    "axis": {"x": "independent", "y": "independent"}
  },
  "config": {
    "font": "Liberation Sans",
    "view": {"stroke": "#333333", "strokeWidth": 1.5},
    "axis": {"grid": false, "domainColor": "#333333", "domainWidth": 1.5, "tickColor": "#333333", "tickWidth": 1.5, "tickSize": 6, "labelFont": "Liberation Sans", "labelFontSize": 18, "labelColor": "#1a1a1a", "titleFont": "Liberation Sans", "titleFontSize": 22, "titleFontWeight": "normal", "titleColor": "#1a1a1a", "labelOverlap": false, "labelFlush": false},
    "legend": {"labelFont": "Liberation Sans", "labelColor": "#1a1a1a", "labelLimit": 400},
    "title": {"font": "Liberation Sans", "fontWeight": "normal", "fontSize": 26, "color": "#1a1a1a"},
    "text": {"font": "Liberation Sans"}
  }
}
